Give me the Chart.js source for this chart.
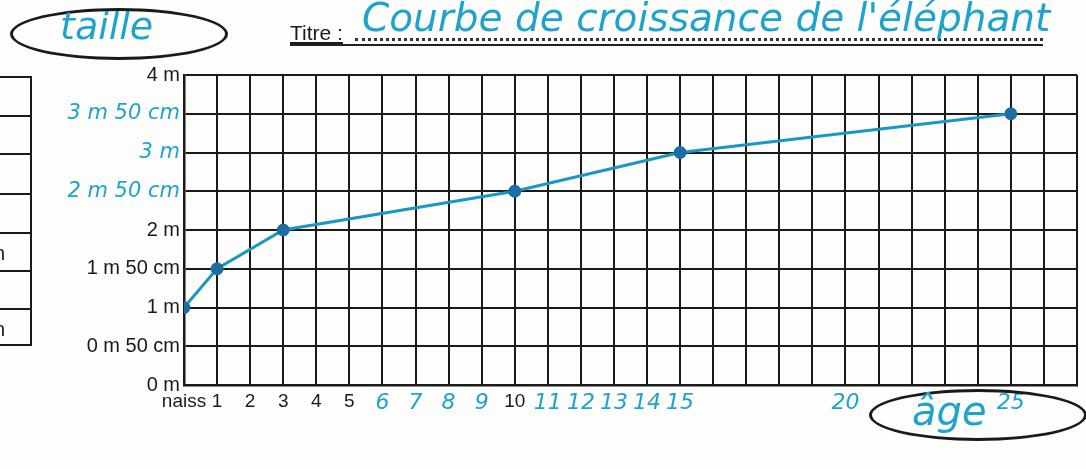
<!DOCTYPE html>
<html>
<head>
<meta charset="utf-8">
<script src="https://cdn.jsdelivr.net/npm/chart.js@4/dist/chart.umd.min.js"></script>
<style>
  body { margin: 0; background: #fdfdfc; }
  #wrap { position: relative; width: 1086px; height: 469px; overflow: hidden; }
  #chart { position: absolute; left: 0; top: 0; }
  .hand { position: absolute; color: #1fa3cc; font-family: "DejaVu Sans"; font-style: italic; white-space: nowrap; }
  .ell { position: absolute; border: 3px solid #1a1a1a; border-radius: 50%; }
  .printed { position: absolute; font-family: "Liberation Sans", Arial; color: #1a1a1a; white-space: nowrap; }
  .cell { position: absolute; left: -4px; width: 36px; border: 2px solid #1a1a1a; border-left: none; box-sizing: border-box; }
</style>
</head>
<body>
<div id="wrap">
  <canvas id="chart" width="1086" height="469"></canvas>

  <!-- bits of the worksheet around the graph -->
  <div class="ell" style="left:10px; top:8px; width:212px; height:46px;"></div>
  <div class="hand" style="left:60px; top:4px; font-size:38px;">taille</div>

  <div class="printed" style="left:290px; top:21px; font-size:21px; text-decoration: underline;">Titre :</div>
  <div style="position:absolute; left:355px; top:38px; width:688px; border-top: 3px dotted #333;"></div>
  <div style="position:absolute; left:290px; top:44px; width:753px; border-top: 2px solid #222;"></div>
  <div class="hand" style="left:362px; top:-5px; font-size:39px;">Courbe de croissance de l'éléphant</div>

  <div class="ell" style="left:869px; top:389px; width:212px; height:46px;"></div>
  <div class="hand" style="left:912px; top:388px; font-size:40px;">âge</div>

  <div class="cell" style="top:76px; height:41px;"></div>
  <div class="cell" style="top:115px; height:40px;"></div>
  <div class="cell" style="top:153px; height:42px;"></div>
  <div class="cell" style="top:193px; height:41px;"></div>
  <div class="cell" style="top:232px; height:40px;"></div>
  <div class="cell" style="top:270px; height:40px;"></div>
  <div class="cell" style="top:308px; height:38px;"></div>
  <div class="printed" style="left:-6px; top:242px; font-size:20px;">n</div>
  <div class="printed" style="left:-6px; top:318px; font-size:20px;">n</div>
</div>

<script>
// elephant growth: age (years) -> height (m)
const ages = [0, 1, 3, 10, 15, 25];
const heights = [1, 1.5, 2, 2.5, 3, 3.5];

// x tick labels, one per year 0..27 (blue = written by hand)
const xLabels = ["naiss", "1", "2", "3", "4", "5", "6", "7", "8", "9", "10", "11", "12", "13", "14", "15",
  "", "", "", "", "20", "", "", "", "", "25", "", ""];
const xHand = [6, 7, 8, 9, 11, 12, 13, 14, 15, 20, 25];

// y tick labels, every 50 cm
const yValues = [0, 0.5, 1, 1.5, 2, 2.5, 3, 3.5, 4];
const yLabels = ["0 m", "0 m 50 cm", "1 m", "1 m 50 cm", "2 m", "2 m 50 cm", "3 m", "3 m 50 cm", "4 m"];
const yHand = [2.5, 3, 3.5];

const ink = '#1a1a1a';
const blue = '#1fa3cc';
const xFont = { family: 'Liberation Sans', size: 19 };
const yFont = { family: 'Liberation Sans', size: 20 };
const handX = { family: 'DejaVu Sans', size: 22, style: 'italic' };
const handY = { family: 'DejaVu Sans', size: 21, style: 'italic' };

// is this tick one of the hand-written ones?
function isHand(c, list) {
  return !!(c && c.tick && list.includes(c.tick.value));
}

new Chart(document.getElementById('chart'), {
  type: 'line',
  data: {
    datasets: [{
      data: ages.map((a, i) => ({ x: a, y: heights[i] })),
      borderColor: '#1b97c4',
      borderWidth: 3,
      pointRadius: 5,
      pointBackgroundColor: '#1d6ea3',
      pointBorderColor: '#1d6ea3',
      tension: 0
    }]
  },
  options: {
    responsive: false,
    animation: false,
    layout: { padding: { left: 0, right: 9, top: 75, bottom: 0 } },
    plugins: { legend: { display: false }, tooltip: { enabled: false } },
    scales: {
      x: {
        type: 'linear',
        min: 0, max: 27,
        afterFit: s => { s.height = 84; },
        grid: { color: ink, lineWidth: 2, drawTicks: false },
        border: { color: ink, width: 2.5 },
        ticks: {
          stepSize: 1,
          autoSkip: false,
          maxRotation: 0,
          padding: 5,
          callback: v => xLabels[v],
          color: c => isHand(c, xHand) ? blue : ink,
          font: c => isHand(c, xHand) ? handX : xFont
        }
      },
      y: {
        min: 0, max: 4,
        afterFit: s => { s.width = 184; },
        afterBuildTicks: s => { s.ticks = yValues.map(v => ({ value: v })); },
        grid: { color: ink, lineWidth: 2, drawTicks: false },
        border: { color: ink, width: 2.5 },
        ticks: {
          padding: 4,
          callback: v => yLabels[yValues.indexOf(v)],
          color: c => isHand(c, yHand) ? blue : ink,
          font: c => isHand(c, yHand) ? handY : yFont
        }
      }
    }
  }
});
</script>
</body>
</html>
